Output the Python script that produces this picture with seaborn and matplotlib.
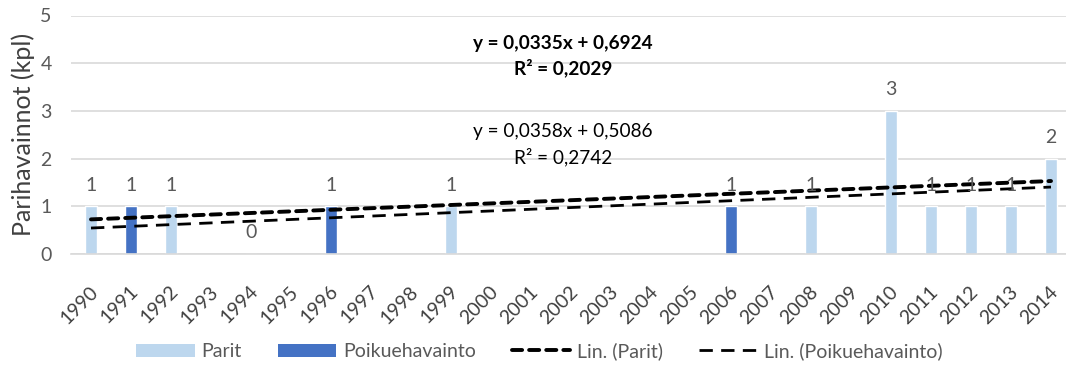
import numpy as np
import pandas as pd
import matplotlib
matplotlib.use("Agg")
import matplotlib.pyplot as plt
import matplotlib.transforms as mtrans
import seaborn as sns
from matplotlib.patches import Patch
from matplotlib.lines import Line2D

# ---- data ----
years = [str(y) for y in range(1990, 2015)]
parit_years = ["1990", "1992", "1994", "1999", "2008", "2010", "2011", "2012", "2013", "2014"]
parit_values = [1, 1, 0, 1, 1, 3, 1, 1, 1, 2]
poikue_years = ["1991", "1996", "2006"]
poikue_values = [1, 1, 1]
series_names = ["Parit", "Poikuehavainto"]
trend_names = ["Lin. (Parit)", "Lin. (Poikuehavainto)"]
trend_slopes = [0.0335, 0.0358]
trend_intercepts = [0.6924, 0.5086]
trend_r2 = [0.2029, 0.2742]
y_label = "Parihavainnot (kpl)"

# ---- style ----
sns.set_style("white")
plt.rcParams["font.family"] = ["Lato", "DejaVu Sans"]
light, dark = "#BDD7EE", "#4472C4"
grid_c = "#D9D9D9"
txt_c = "#595959"
dark_txt = "#404040"
FS = 14

fig = plt.figure(figsize=(10.66, 3.65), dpi=100)
fig.patch.set_facecolor("white")
ax = fig.add_axes([71 / 1066, 1 - 254 / 365, 1000 / 1066, (254 - 15.5) / 365])

df = pd.DataFrame({
    "Vuosi": parit_years + poikue_years,
    "Arvo": parit_values + poikue_values,
    "Sarja": [series_names[0]] * len(parit_years) + [series_names[1]] * len(poikue_years),
})

sns.barplot(data=df, x="Vuosi", y="Arvo", hue="Sarja", order=years,
            hue_order=series_names, palette=[light, dark], dodge=False,
            width=0.3, errorbar=None, saturation=1, legend=False, ax=ax)

for cont in ax.containers:
    ax.bar_label(cont, fmt="%d", padding=9, color=txt_c, fontsize=FS)

# trend lines
xs = np.arange(len(years))
styles = [
    dict(linewidth=2.8, linestyle=(0, (2.6, 1.8)), dash_capstyle="round"),
    dict(linewidth=2.0, linestyle=(0, (4.8, 3.0)), dash_capstyle="butt"),
]
for s, b, st in zip(trend_slopes, trend_intercepts, styles):
    sns.lineplot(x=xs, y=s * (xs + 1) + b, color="black", ax=ax, **st)

# trend equations
def fmt(v):
    return f"{v:.4f}".replace(".", ",")

eq_pos = [(11.8, 4.42, 3.90, "bold"), (11.8, 2.56, 2.03, "normal")]
for s, b, r2, (ex, ey1, ey2, w) in zip(trend_slopes, trend_intercepts, trend_r2, eq_pos):
    ax.text(ex, ey1, f"y = {fmt(s)}x + {fmt(b)}", ha="center", va="center",
            fontsize=13.7, fontweight=w, color="black")
    ax.text(ex, ey2, f"R² = {fmt(r2)}", ha="center", va="center",
            fontsize=13.7, fontweight=w, color="black")

# axes styling
ax.set_ylim(0, 5)
ax.set_yticks(range(6))
ax.set_xlim(-0.5, len(years) - 0.5)
ax.yaxis.grid(True, color=grid_c, linewidth=1.2)
ax.xaxis.grid(False)
ax.set_axisbelow(True)
for sp in ["top", "right", "left"]:
    ax.spines[sp].set_visible(False)
ax.spines["bottom"].set_color(grid_c)
ax.spines["bottom"].set_linewidth(1.2)

ax.tick_params(axis="y", length=0, pad=14, labelsize=FS, labelcolor=txt_c)
ax.tick_params(axis="x", length=0, pad=25, labelsize=FS, labelcolor=dark_txt)
shift = mtrans.ScaledTranslation(4 / 100, 0, fig.dpi_scale_trans)
for lab in ax.get_xticklabels():
    lab.set_rotation(45)
    lab.set_ha("right")
    lab.set_va("center")
    lab.set_rotation_mode("anchor")
    lab.set_transform(lab.get_transform() + shift)

ax.set_xlabel("")
ax.set_ylabel(y_label, fontsize=18, color=dark_txt)
ax.yaxis.set_label_coords(-0.036, 0.5)

handles = [
    Patch(facecolor=light, edgecolor="none"),
    Patch(facecolor=dark, edgecolor="none"),
    Line2D([], [], color="black", **styles[0]),
    Line2D([], [], color="black", **styles[1]),
]
fig.legend(handles, series_names + trend_names, loc="center",
           bbox_to_anchor=(539.5 / 1066, 1 - 351 / 365), ncol=4, frameon=False,
           fontsize=FS, handlelength=3.0, handleheight=0.65, handletextpad=0.35,
           columnspacing=1.85, labelcolor=txt_c)

fig.savefig("out.png", dpi=100, facecolor="white")
